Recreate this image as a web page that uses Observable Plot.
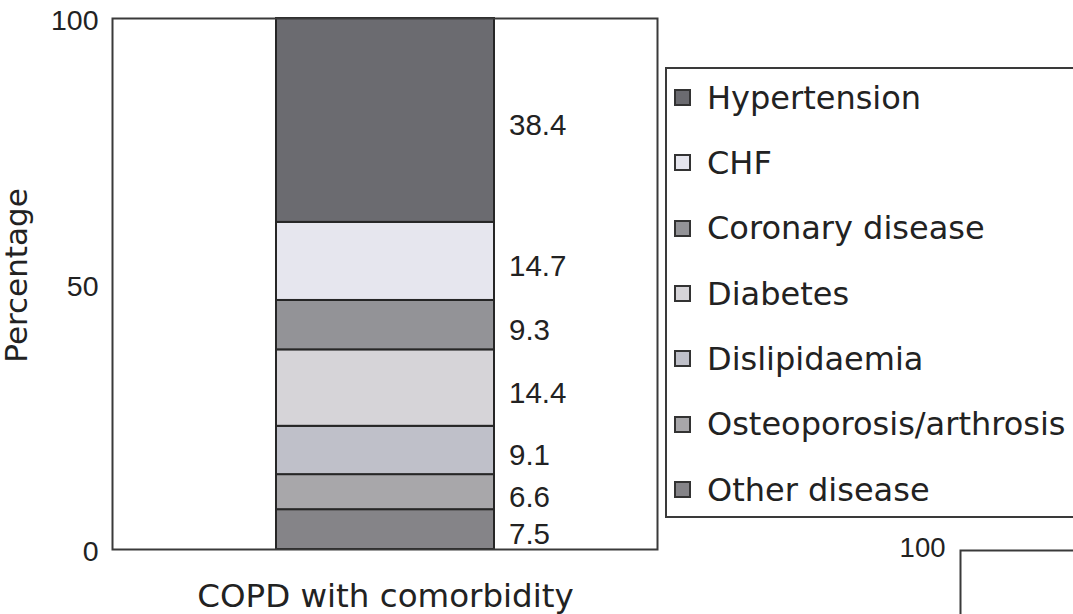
<!DOCTYPE html>
<html>
<head>
<meta charset="utf-8">
<script src="https://cdn.jsdelivr.net/npm/d3@7"></script>
<script src="https://cdn.jsdelivr.net/npm/@observablehq/plot@0.6"></script>
<style>
  html, body { margin: 0; padding: 0; background: #fff; overflow: hidden; }
  #wrap { position: relative; width: 1073px; height: 614px; overflow: hidden; font-family: "DejaVu Sans", sans-serif; color: #222; }
  #main { position: absolute; left: 0; top: 0; width: 1073px; }
  #second { position: absolute; left: 890px; top: 530px; width: 220px; }
  #second svg { max-width: none !important; }
  #legend { position: absolute; left: 665px; top: 67px; width: 440px; height: 451px; border: 2px solid #3a3a3a; box-sizing: border-box; background: #fff; }
  #legend .list { position: absolute; left: 0; top: -4px; }
  #legend .row { height: 65.33px; display: flex; align-items: center; }
  #legend .sw { width: 17px; height: 17px; box-sizing: border-box; border: 2px solid #333; margin-left: 7px; flex: none; }
  #legend .lab { margin-left: 16px; font-size: 32px; line-height: 1; white-space: nowrap; color: #222; }
</style>
</head>
<body>
<div id="wrap">
  <div id="main"></div>
  <div id="legend"><div class="list"></div></div>
  <div id="second"></div>
</div>
<script>
// Stack order, bottom to top
const categories = ["Other disease", "Osteoporosis/arthrosis", "Dislipidaemia", "Diabetes", "Coronary disease", "CHF", "Hypertension"];
const values = [7.5, 6.6, 9.1, 14.4, 9.3, 14.7, 38.4];
const groupName = "COPD with comorbidity";
const yTicks = [0, 50, 100];
const yLabel = "Percentage";
// Legend order, top to bottom
const legendOrder = ["Hypertension", "CHF", "Coronary disease", "Diabetes", "Dislipidaemia", "Osteoporosis/arthrosis", "Other disease"];
const secondChartTicks = [100];

const data = categories.map((c, i) => ({group: groupName, name: c, value: values[i]}));

const numFont = "Liberation Sans, Arial, sans-serif";

const plot = Plot.plot({
  width: 1073,
  height: 614,
  marginLeft: 112,
  marginRight: 416,
  marginTop: 18,
  marginBottom: 65,
  style: {fontFamily: "DejaVu Sans, sans-serif", color: "#222", background: "#fff"},
  x: {type: "band", domain: [groupName], padding: 0.4286},
  y: {domain: [0, 100]},
  color: {
    domain: categories,
    range: ["#858488", "#a8a7aa", "#bfc0c9", "#d6d4d8", "#939397", "#e6e6ee", "#6b6b70"]
  },
  marks: [
    Plot.barY(data, {x: "group", y: "value", fill: "name", stroke: "#262626", strokeWidth: 2, order: null}),
    Plot.text(data, Plot.stackY({x: "group", y: "value", order: null, text: d => d.value.toFixed(1), textAnchor: "start", dx: 123.5, dy: 5, fontSize: 29.5, fontFamily: numFont, fill: "#222"})),
    Plot.frame({stroke: "#3a3a3a", strokeWidth: 2}),
    Plot.axisY({ticks: yTicks, tickSize: 0, tickPadding: 14, fontSize: 28.5, fontFamily: numFont, dy: 2.5, label: null, tickFormat: d => String(d)}),
    Plot.axisX({tickSize: 0, tickPadding: 34, fontSize: 32.5, label: null}),
    Plot.text([yLabel], {frameAnchor: "left", textAnchor: "middle", rotate: -90, dx: -86, dy: -8.5, lineAnchor: "bottom", fontSize: 31, fill: "#222"})
  ]
});
document.getElementById("main").appendChild(plot);

// Legend built from the plot's color scale
const colorScale = plot.scale("color");
const colorOf = d3.scaleOrdinal(colorScale.domain, colorScale.range);
const list = document.querySelector("#legend .list");
for (const name of legendOrder) {
  const row = document.createElement("div");
  row.className = "row";
  const sw = document.createElement("div");
  sw.className = "sw";
  sw.style.background = colorOf(name);
  const lab = document.createElement("span");
  lab.className = "lab";
  lab.textContent = name;
  row.appendChild(sw);
  row.appendChild(lab);
  list.appendChild(row);
}

// Partial second chart visible at bottom right
const second = Plot.plot({
  width: 220,
  height: 300,
  marginLeft: 70,
  marginRight: 0,
  marginTop: 20,
  marginBottom: 20,
  style: {fontFamily: numFont, color: "#222", background: "transparent"},
  y: {domain: [0, 100]},
  marks: [
    Plot.frame({stroke: "#3a3a3a", strokeWidth: 2}),
    Plot.axisY({ticks: secondChartTicks, tickSize: 0, tickPadding: 15, fontSize: 27.5, fontFamily: numFont, dy: -2, label: null})
  ]
});
document.getElementById("second").appendChild(second);
</script>
</body>
</html>
